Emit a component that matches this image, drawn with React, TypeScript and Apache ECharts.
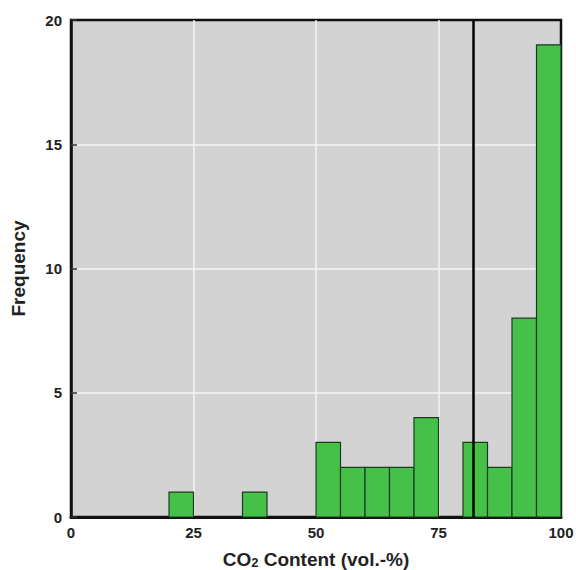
import React, { useEffect, useRef } from "react";
import * as echarts from "echarts";

const binStarts = [20, 35, 50, 55, 60, 65, 70, 80, 85, 90, 95];
const binWidth = 5;
const counts = [1, 1, 3, 2, 2, 2, 4, 3, 2, 8, 19];
const markerX = 82;
const xTicks = [0, 25, 50, 75, 100];
const yTicks = [0, 5, 10, 15, 20];

export default function App() {
  const ref = useRef<HTMLDivElement>(null);
  useEffect(() => {
    const chart = echarts.init(ref.current!, null, { renderer: "svg" });
    const data = binStarts.map((s, i) => [s, s + binWidth, counts[i]]);
    chart.setOption({
      animation: false,
      grid: {
        left: 71,
        top: 20,
        width: 490,
        height: 497,
        containLabel: false,
        outerBoundsMode: "none",
        show: true,
        backgroundColor: "#d3d3d3",
        borderColor: "#111",
        borderWidth: 2.5,
      },
      xAxis: {
        type: "value",
        min: xTicks[0],
        max: xTicks[xTicks.length - 1],
        interval: 25,
        name: "CO{sub|2} Content (vol.-%)",
        nameLocation: "middle",
        nameGap: 33,
        nameTextStyle: {
          fontFamily: "Liberation Sans",
          fontWeight: "bold",
          fontSize: 19,
          color: "#222",
          rich: {
            sub: { fontSize: 13, fontWeight: "bold", fontFamily: "Liberation Sans", color: "#222", verticalAlign: "bottom", padding: [6, 0, 0, 0] },
          },
        },
        axisLine: { show: true, lineStyle: { color: "#111", width: 3 } },
        axisTick: { show: false },
        splitLine: { show: true, showMinLine: false, showMaxLine: false, lineStyle: { color: "#f4f4f4", width: 1.5 } },
        axisLabel: {
          margin: 8,
          fontFamily: "Liberation Sans",
          fontWeight: "bold",
          fontSize: 15,
          color: "#222",
        },
      },
      yAxis: {
        type: "value",
        min: yTicks[0],
        max: yTicks[yTicks.length - 1],
        interval: 5,
        name: "Frequency",
        nameLocation: "middle",
        nameGap: 43,
        nameTextStyle: {
          fontFamily: "Liberation Sans",
          fontWeight: "bold",
          fontSize: 19,
          color: "#222",
        },
        axisLine: { show: true, lineStyle: { color: "#111", width: 2.5 } },
        axisTick: { show: true, inside: true, length: 6, lineStyle: { color: "#333", width: 1.5 } },
        splitLine: { show: true, showMinLine: false, showMaxLine: false, lineStyle: { color: "#f4f4f4", width: 1.5 } },
        axisLabel: {
          margin: 9,
          fontFamily: "Liberation Sans",
          fontWeight: "bold",
          fontSize: 15,
          color: "#222",
        },
      },
      series: [
        {
          type: "custom",
          data,
          encode: { x: [0, 1], y: 2 },
          renderItem: (params: any, api: any) => {
            const p0 = api.coord([api.value(0), api.value(2)]);
            const p1 = api.coord([api.value(1), 0]);
            return {
              type: "rect",
              shape: { x: p0[0], y: p0[1], width: p1[0] - p0[0], height: p1[1] - p0[1] },
              style: { fill: "#45c14a", stroke: "#1e3a1e", lineWidth: 1.2 },
            };
          },
          markLine: {
            silent: true,
            symbol: "none",
            label: { show: false },
            lineStyle: { color: "#000", width: 2.5, type: "solid" },
            data: [{ xAxis: markerX }],
          },
          z: 3,
        },
      ],
    });
    return () => chart.dispose();
  }, []);
  return (
    <div
      ref={ref}
      style={{ position: "absolute", left: 0, top: 0, width: 576, height: 570 }}
    />
  );
}
